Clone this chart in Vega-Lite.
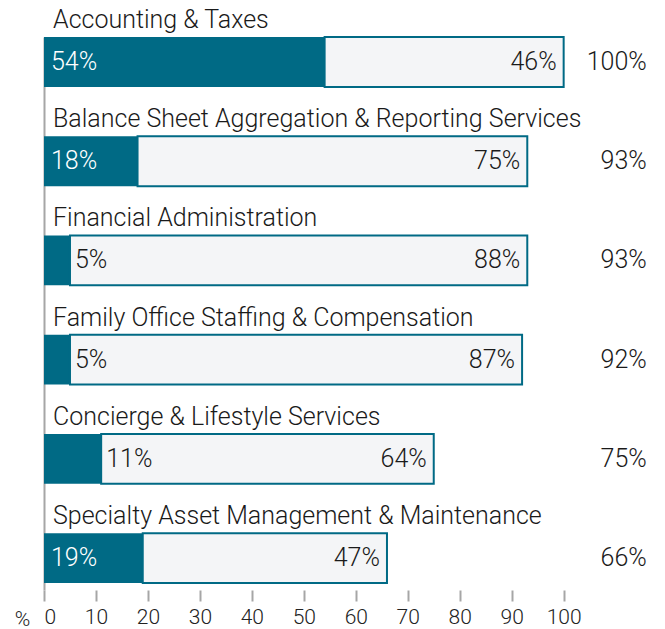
{
  "$schema": "https://vega.github.io/schema/vega-lite/v6.json",
  "width": 608,
  "height": 553,
  "autosize": {"type": "none"},
  "padding": {"left": 44, "top": 37, "right": 13, "bottom": 39},
  "background": "white",
  "config": {"view": {"stroke": null}, "font": "Roboto"},
  "data": {
    "values": [
      {"cat": "Accounting & Taxes", "a": 0.54, "b": 0.46, "total": 1.00},
      {"cat": "Balance Sheet Aggregation & Reporting Services", "a": 0.18, "b": 0.75, "total": 0.93},
      {"cat": "Financial Administration", "a": 0.05, "b": 0.88, "total": 0.93},
      {"cat": "Family Office Staffing & Compensation", "a": 0.05, "b": 0.87, "total": 0.92},
      {"cat": "Concierge & Lifestyle Services", "a": 0.11, "b": 0.64, "total": 0.75},
      {"cat": "Specialty Asset Management & Maintenance", "a": 0.19, "b": 0.47, "total": 0.66}
    ]
  },
  "encoding": {
    "y": {
      "field": "cat",
      "type": "nominal",
      "sort": null,
      "scale": {"paddingInner": 0.497, "paddingOuter": 0.035, "align": 0},
      "axis": {
        "title": null,
        "labels": false,
        "ticks": false,
        "domain": true,
        "domainColor": "#a6a6a6",
        "domainWidth": 2
      }
    }
  },
  "layer": [
    {
      "mark": {"type": "bar", "color": "#006a85"},
      "encoding": {
        "x": {
          "field": "a",
          "type": "quantitative",
          "scale": {"domain": [0, 1.17], "nice": false},
          "axis": {
            "values": [0, 0.1, 0.2, 0.3, 0.4, 0.5, 0.6, 0.7, 0.8, 0.9, 1.0],
            "labelExpr": "format(datum.value * 100, '.0f')",
            "domain": false,
            "grid": false,
            "tickColor": "#a6a6a6",
            "tickWidth": 2,
            "tickSize": 11,
            "labelFontSize": 21,
            "labelFontWeight": 300,
            "labelColor": "#222222",
            "labelPadding": 5,
            "labelFont": "Roboto",
            "title": "%",
            "titleFontSize": 21,
            "titleFontWeight": 300,
            "titleColor": "#222222",
            "titleFont": "Roboto",
            "titleX": -22,
            "titleY": 35,
            "titleAlign": "center",
            "titleBaseline": "alphabetic"
          }
        }
      }
    },
    {
      "mark": {"type": "bar", "color": "#f4f5f7", "stroke": "#006a85", "strokeWidth": 2},
      "encoding": {
        "x": {"field": "a", "type": "quantitative"},
        "x2": {"field": "total"}
      }
    },
    {
      "mark": {"type": "text", "align": "left", "baseline": "alphabetic", "dx": 9, "dy": -34, "fontSize": 25, "fontWeight": 300, "color": "#1a1a1a"},
      "encoding": {
        "x": {"datum": 0, "type": "quantitative"},
        "text": {"field": "cat"}
      }
    },
    {
      "transform": [{"filter": "datum.a >= 0.15"}],
      "mark": {"type": "text", "align": "left", "baseline": "middle", "dx": 7, "fontSize": 25, "fontWeight": 300, "color": "white"},
      "encoding": {
        "x": {"datum": 0, "type": "quantitative"},
        "text": {"field": "a", "format": ".0%"}
      }
    },
    {
      "transform": [{"filter": "datum.a < 0.15"}],
      "mark": {"type": "text", "align": "left", "baseline": "middle", "dx": 5, "fontSize": 25, "fontWeight": 300, "color": "#1a1a1a"},
      "encoding": {
        "x": {"field": "a", "type": "quantitative"},
        "text": {"field": "a", "format": ".0%"}
      }
    },
    {
      "mark": {"type": "text", "align": "right", "baseline": "middle", "dx": -7, "fontSize": 25, "fontWeight": 300, "color": "#1a1a1a"},
      "encoding": {
        "x": {"field": "total", "type": "quantitative"},
        "text": {"field": "b", "format": ".0%"}
      }
    },
    {
      "mark": {"type": "text", "align": "right", "baseline": "middle", "fontSize": 25, "fontWeight": 300, "color": "#1a1a1a"},
      "encoding": {
        "x": {"datum": 1.16, "type": "quantitative"},
        "text": {"field": "total", "format": ".0%"}
      }
    }
  ]
}
